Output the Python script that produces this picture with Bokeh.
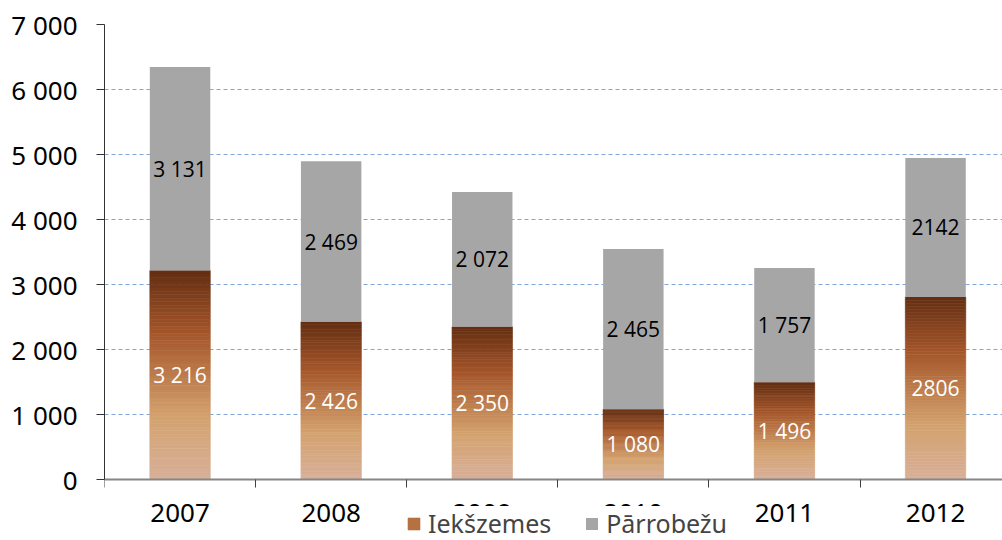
from bokeh.plotting import figure
from bokeh.models import (Range1d, FixedTicker, Legend, LegendItem, ColumnDataSource)
from bokeh.core.properties import value
from bokeh.embed import file_html
from bokeh.resources import INLINE

years = ["2007", "2008", "2009", "2010", "2011", "2012"]
domestic = [3216, 2426, 2350, 1080, 1496, 2806]
crossborder = [3131, 2469, 2072, 2465, 1757, 2142]
domestic_labels = ["3 216", "2 426", "2 350", "1 080", "1 496", "2806"]
cross_labels = ["3 131", "2 469", "2 072", "2 465", "1 757", "2142"]
y_ticks = [0, 1000, 2000, 3000, 4000, 5000, 6000, 7000]
y_tick_labels = ["0", "1 000", "2 000", "3 000", "4 000", "5 000", "6 000", "7 000"]

AX_FONT = "Noto Sans"
LBL_FONT = "Open Sans"

# gradient stops (fraction from bottom, rgb)
stops = [(0.0, (215, 176, 154)), (0.30, (212, 162, 110)), (0.70, (165, 86, 42)), (1.0, (100, 46, 18))]

def grad(t):
    for (t0, c0), (t1, c1) in zip(stops[:-1], stops[1:]):
        if t <= t1:
            f = (t - t0) / (t1 - t0)
            return "#%02x%02x%02x" % tuple(int(round(a + (b - a) * f)) for a, b in zip(c0, c1))
    return "#%02x%02x%02x" % stops[-1][1]

n = len(years)
xs = [i + 0.5 for i in range(n)]
BAR_W = 0.40

W, H = 1002, 540
FRAME_L, Y0_PX, Y7K_PX = 104, 479, 24
px_per_unit = (Y0_PX - Y7K_PX) / 7000.0
y_start = -(H - Y0_PX) / px_per_unit
x_end = (W - FRAME_L) / 151.1

p = figure(width=W, height=H, output_backend="svg", toolbar_location=None,
           x_range=Range1d(0, x_end), y_range=Range1d(y_start, 7000),
           min_border_left=FRAME_L, min_border_right=0, min_border_top=Y7K_PX, min_border_bottom=0)
p.outline_line_color = None
p.background_fill_color = "white"
p.xgrid.visible = False
p.ygrid.ticker = FixedTicker(ticks=y_ticks[1:])
p.ygrid.grid_line_color = "#7FA6DE"
p.ygrid.grid_line_dash = "4 3"
p.ygrid.grid_line_width = 1

# gradient bottom segments
N = 60
gx, gb, gt, gc = [], [], [], []
for i in range(n):
    v = domestic[i]
    for k in range(N):
        gx.append(xs[i])
        gb.append(v * k / N)
        gt.append(v * (k + 1) / N)
        gc.append(grad((k + 0.5) / N))
gsrc = ColumnDataSource(dict(x=gx, bottom=gb, top=gt, color=gc))
r_dom = p.vbar(x="x", bottom="bottom", top="top", width=BAR_W, fill_color="color",
               line_color="color", line_width=0.6, source=gsrc)

tops = [d + c for d, c in zip(domestic, crossborder)]
r_cross = p.vbar(x=xs, bottom=domestic, top=tops, width=BAR_W, fill_color="#A6A6A6", line_color=None)

# data labels
p.text(x=xs, y=[d / 2 for d in domestic], text=domestic_labels, text_align="center",
       text_baseline="middle", text_color="white", text_font=value(LBL_FONT), text_font_size="21px")
p.text(x=xs, y=[d + c / 2 for d, c in zip(domestic, crossborder)], text=cross_labels,
       text_align="center", text_baseline="middle", text_color="black",
       text_font=value(LBL_FONT), text_font_size="21px")

# axes
xa = p.xaxis[0]
xa.fixed_location = 0
xa.ticker = FixedTicker(ticks=xs, minor_ticks=list(range(n + 1)))
xa.major_label_overrides = {x: y for x, y in zip(xs, years)}
xa.major_tick_out = 0
xa.major_tick_in = 0
xa.minor_tick_out = 8
xa.minor_tick_in = 0
xa.minor_tick_line_color = "#404040"
xa.axis_line_color = "#868686"
xa.axis_line_width = 2
xa.major_label_text_font = AX_FONT
xa.major_label_text_font_size = "26px"
xa.major_label_text_color = "black"
xa.major_label_standoff = 16

ya = p.yaxis[0]
ya.bounds = (0, 7000)
ya.ticker = FixedTicker(ticks=y_ticks)
ya.major_label_overrides = {t: l for t, l in zip(y_ticks, y_tick_labels)}
ya.major_tick_out = 8
ya.major_tick_in = 0
ya.minor_tick_out = 0
ya.minor_tick_in = 0
ya.axis_line_color = "#333333"
ya.major_tick_line_color = "#333333"
ya.major_label_text_font = AX_FONT
ya.major_label_text_font_size = "26px"
ya.major_label_text_color = "black"
ya.major_label_standoff = 19

legend = Legend(items=[LegendItem(label="Iekšzemes", renderers=[r_dom], index=33),
                       LegendItem(label="Pārrobežu", renderers=[r_cross])],
                orientation="horizontal", location=(302, 0),
                label_text_font=AX_FONT, label_text_font_size="25px",
                glyph_width=15, glyph_height=15, spacing=33, label_standoff=7,
                padding=12, margin=0, border_line_color=None,
                background_fill_color="white", background_fill_alpha=1.0)
p.add_layout(legend)

open("out.html", "w").write(file_html(p, INLINE))
